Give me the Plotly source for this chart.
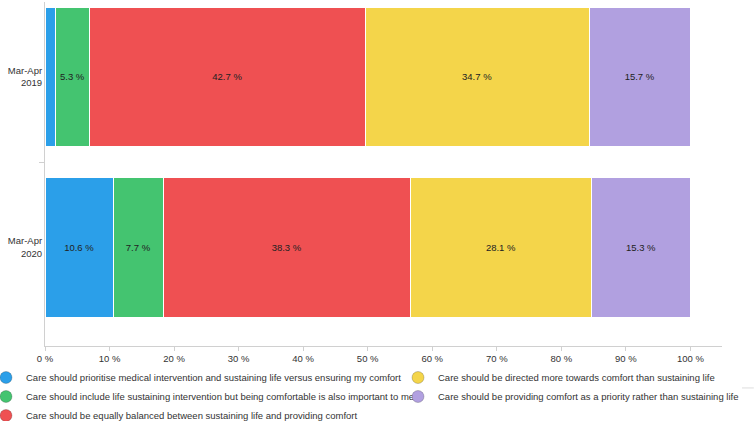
import plotly.graph_objects as go

categories = ["Mar-Apr<br>2019", "Mar-Apr<br>2020"]
series_names = [
    "Care should prioritise medical intervention and sustaining life versus ensuring my comfort",
    "Care should include life sustaining intervention but being comfortable is also important to me",
    "Care should be equally balanced between sustaining life and providing comfort",
    "Care should be directed more towards comfort than sustaining life",
    "Care should be providing comfort as a priority rather than sustaining life",
]
prioritise_medical = [1.6, 10.6]
include_life_sustaining = [5.3, 7.7]
equally_balanced = [42.7, 38.3]
more_towards_comfort = [34.7, 28.1]
comfort_priority = [15.7, 15.3]
series_values = [prioritise_medical, include_life_sustaining, equally_balanced,
                 more_towards_comfort, comfort_priority]
tick_values = [0, 10, 20, 30, 40, 50, 60, 70, 80, 90, 100]
tick_labels = [f"{v} %" for v in tick_values]

colors = ["#2B9FE9", "#44C470", "#EF5052", "#F4D54A", "#B1A0E0"]
legend_group = ["legend", "legend", "legend", "legend2", "legend2"]
FONT = "Liberation Sans, Arial, sans-serif"
FS = 9.5

fig = go.Figure()
for name, vals, col in zip(series_names, series_values, colors):
    texts = [f"{v:.1f} %" if v >= 3 else "" for v in vals]
    fig.add_trace(go.Bar(
        y=categories, x=vals, orientation="h", name=name,
        marker=dict(color=col, line=dict(color="white", width=1)),
        text=texts, textposition="inside", insidetextanchor="middle", textangle=0,
        textfont=dict(color="#222222", size=FS, family=FONT),
        showlegend=False, width=0.82, hoverinfo="x+name",
    ))
for name, col, lg in zip(series_names, colors, legend_group):
    fig.add_trace(go.Scatter(
        x=[None], y=[None], mode="markers", name=name, legend=lg,
        marker=dict(symbol="circle", size=12, color=col,
                    line=dict(color="rgba(0,0,0,0.2)", width=1)),
        showlegend=True,
    ))

legend_common = dict(orientation="v", xref="paper", yref="paper",
                     yanchor="top", xanchor="left", traceorder="normal",
                     font=dict(size=FS, color="#333333", family=FONT),
                     bgcolor="rgba(0,0,0,0)", tracegroupgap=0, itemwidth=30)

fig.update_layout(
    barmode="stack",
    width=754, height=421,
    margin=dict(l=45, r=32, t=2, b=75, autoexpand=False),
    plot_bgcolor="white", paper_bgcolor="white",
    font=dict(family=FONT, size=FS, color="#333333"),
    xaxis=dict(range=[0, 104.9], tickvals=tick_values, ticktext=tick_labels,
               showgrid=False, zeroline=False, showline=True, linecolor="#d0d0d0",
               ticks="outside", ticklen=4, tickcolor="#d0d0d0",
               tickfont=dict(size=FS, color="#333333"), automargin=False),
    yaxis=dict(type="category", categoryorder="array", categoryarray=categories,
               autorange=False, range=[1.58, -0.44],
               showgrid=False, zeroline=False, showline=True, linecolor="#d0d0d0",
               ticks="outside", ticklen=5, tickcolor="#d0d0d0", tickson="boundaries",
               tickfont=dict(size=FS, color="#333333"), automargin=False),
    legend=dict(x=(-14 - 45) / 677, y=-17 / 344, **legend_common),
    legend2=dict(x=(398 - 45) / 677, y=-17 / 344, **legend_common),
    shapes=[dict(type="line", xref="paper", yref="paper",
                 x0=1.0295, x1=1.047, y0=-0.122, y1=-0.122,
                 line=dict(color="#dddddd", width=1))],
)
fig.write_html("out.html", config={"displayModeBar": False},
               post_script="document.body.style.margin='0';document.body.style.overflow='hidden';")
